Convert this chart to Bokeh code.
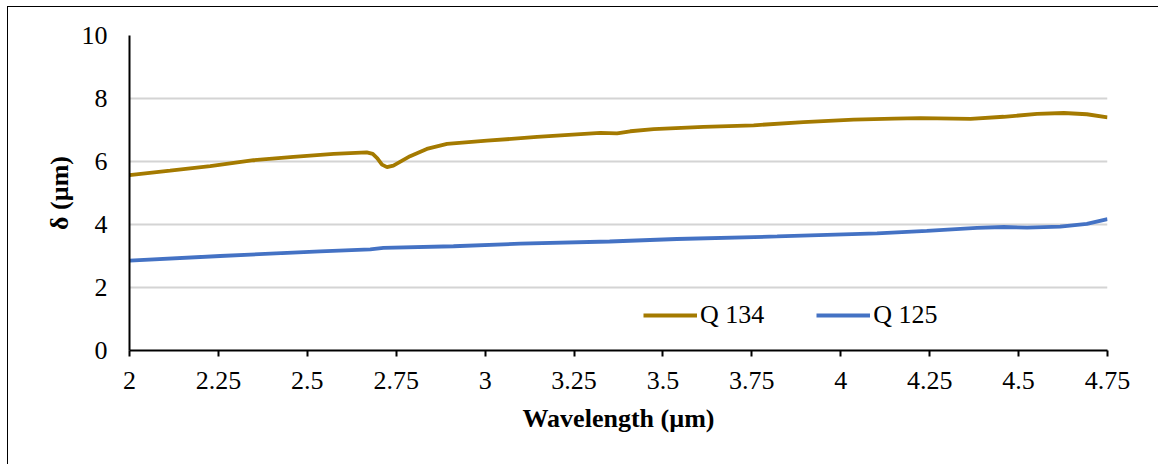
from bokeh.plotting import figure
from bokeh.models import FixedTicker, Range1d, Legend, LegendItem
from bokeh.embed import file_html
from bokeh.resources import INLINE

# ---- data ----
q134_wl = [2.0, 2.114, 2.227, 2.349, 2.461, 2.574, 2.667, 2.684, 2.697, 2.710, 2.724,
           2.742, 2.789, 2.836, 2.893, 3.005, 3.146, 3.324, 3.371, 3.408, 3.474, 3.614,
           3.755, 3.895, 4.036, 4.15, 4.224, 4.365, 4.458, 4.552, 4.627, 4.692, 4.75]
q134_d = [5.57, 5.71, 5.85, 6.04, 6.15, 6.24, 6.29, 6.24, 6.10, 5.90, 5.82,
          5.87, 6.17, 6.40, 6.56, 6.66, 6.78, 6.91, 6.89, 6.96, 7.03, 7.10,
          7.15, 7.25, 7.33, 7.36, 7.38, 7.35, 7.42, 7.51, 7.54, 7.50, 7.40]

q125_wl = [2.0, 2.255, 2.536, 2.677, 2.714, 2.911, 3.099, 3.35, 3.539, 3.821, 4.102,
           4.242, 4.383, 4.458, 4.524, 4.617, 4.692, 4.75]
q125_d = [2.85, 3.00, 3.15, 3.21, 3.26, 3.31, 3.39, 3.46, 3.54, 3.62, 3.72,
          3.80, 3.89, 3.92, 3.90, 3.93, 4.02, 4.17]

x_ticks = [2, 2.25, 2.5, 2.75, 3, 3.25, 3.5, 3.75, 4, 4.25, 4.5, 4.75]
x_tick_labels = ["2", "2.25", "2.5", "2.75", "3", "3.25", "3.5", "3.75", "4", "4.25", "4.5", "4.75"]
y_ticks = [0, 2, 4, 6, 8, 10]

series_names = ["Q 134", "Q 125"]
series_colors = ["#A47A00", "#4472C4"]

FONT = "Liberation Serif"

p = figure(frame_width=978, frame_height=315, output_backend="svg", toolbar_location=None,
           x_range=Range1d(2, 4.75), y_range=Range1d(0, 10),
           min_border_left=121, min_border_top=28, min_border_right=52, min_border_bottom=115,
           background_fill_color="white", border_fill_color="white")
p.outline_line_color = None
p.styles = {"border-top": "1.5px solid black", "border-left": "1.5px solid black",
            "margin-left": "7px", "margin-top": "6px"}

r1 = p.line(q134_wl, q134_d, line_color=series_colors[0], line_width=3.8)
r2 = p.line(q125_wl, q125_d, line_color=series_colors[1], line_width=3.8)

# axes
p.xaxis.ticker = FixedTicker(ticks=x_ticks)
p.xaxis.major_label_overrides = {t: l for t, l in zip(x_ticks, x_tick_labels)}
p.yaxis.ticker = FixedTicker(ticks=y_ticks)
p.xaxis.minor_tick_line_color = None
p.yaxis.minor_tick_line_color = None
for ax in (p.xaxis, p.yaxis):
    ax.axis_line_color = "black"
    ax.axis_line_width = 2
    ax.major_label_text_font = FONT
    ax.major_label_text_font_size = "26px"
    ax.major_label_text_color = "black"
    ax.axis_label_text_font = FONT
    ax.axis_label_text_font_size = "26px"
    ax.axis_label_text_font_style = "bold"
    ax.axis_label_text_color = "black"
p.xaxis.major_tick_line_color = "black"
p.xaxis.major_tick_line_width = 2
p.xaxis.major_tick_in = 0
p.xaxis.major_tick_out = 6
p.xaxis.major_label_standoff = 15
p.xaxis.axis_label = "Wavelength (µm)"
p.xaxis.axis_label_standoff = 12
p.yaxis.major_tick_line_color = None
p.yaxis.major_tick_in = 0
p.yaxis.major_tick_out = 0
p.yaxis.major_label_standoff = 22
p.yaxis.axis_label = "δ (µm)"
p.yaxis.axis_label_standoff = 5

p.xgrid.grid_line_color = None
p.ygrid.ticker = FixedTicker(ticks=y_ticks)
p.ygrid.grid_line_color = "#D4D4D4"
p.ygrid.grid_line_width = 2

legend = Legend(items=[LegendItem(label=series_names[0], renderers=[r1]),
                       LegendItem(label=series_names[1], renderers=[r2])],
                orientation="horizontal", location=(514, 20),
                glyph_width=54, glyph_height=26, label_height=26,
                label_standoff=3, spacing=52, padding=0, margin=0,
                border_line_color=None, background_fill_alpha=0,
                label_text_font=FONT, label_text_font_size="26px",
                label_text_color="black")
p.add_layout(legend, "center")

open("out.html", "w").write(file_html(p, INLINE))
